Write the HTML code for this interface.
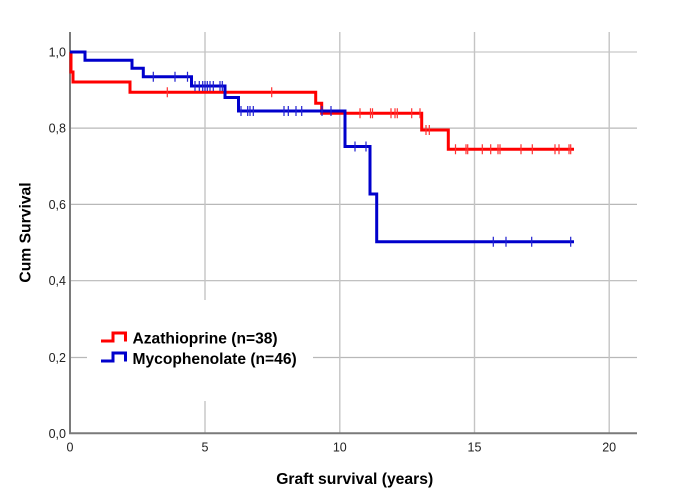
<!DOCTYPE html>
<html><head><meta charset="utf-8"><style>
html,body{margin:0;padding:0;background:#fff;}
svg{display:block;}
text{font-family:"Liberation Sans",Arial,sans-serif;}
</style></head><body>
<svg width="680" height="500" viewBox="0 0 680 500" xmlns="http://www.w3.org/2000/svg">
<rect width="680" height="500" fill="#fff"/>
<!-- horizontal gridlines -->
<g stroke="#b8b8b8" stroke-width="1.2">
<line x1="70" y1="52" x2="637" y2="52" stroke="#d2d2d2" stroke-width="1.6"/>
<line x1="70" y1="128.1" x2="637" y2="128.1"/>
<line x1="70" y1="204.4" x2="637" y2="204.4"/>
<line x1="70" y1="280.7" x2="637" y2="280.7"/>
<line x1="70" y1="357.5" x2="637" y2="357.5"/>
</g>
<!-- vertical gridlines -->
<g stroke="#c4c4c4" stroke-width="1.4">
<line x1="205" y1="32" x2="205" y2="433"/>
<line x1="339.8" y1="32" x2="339.8" y2="433"/>
<line x1="474.5" y1="32" x2="474.5" y2="433"/>
<line x1="609.2" y1="32" x2="609.2" y2="433"/>
</g>
<!-- legend background -->
<rect x="87" y="300" width="226" height="101" fill="#fff"/>
<!-- axes -->
<line x1="70" y1="32" x2="70" y2="434" stroke="#7a7a7a" stroke-width="2"/>
<line x1="69" y1="433.3" x2="637" y2="433.3" stroke="#7a7a7a" stroke-width="2"/>
<!-- y tick labels -->
<g font-size="12.5" fill="#222" text-anchor="end">
<text x="66" y="56.5">1,0</text>
<text x="66" y="132.6">0,8</text>
<text x="66" y="208.9">0,6</text>
<text x="66" y="285.2">0,4</text>
<text x="66" y="362">0,2</text>
<text x="66" y="438">0,0</text>
</g>
<!-- x tick labels -->
<g font-size="12.5" fill="#222" text-anchor="middle">
<text x="70" y="451.5">0</text>
<text x="205" y="451.5">5</text>
<text x="339.8" y="451.5">10</text>
<text x="474.5" y="451.5">15</text>
<text x="609.2" y="451.5">20</text>
</g>
<!-- axis titles -->
<text x="354.7" y="484" font-size="15.7" font-weight="bold" fill="#000" text-anchor="middle">Graft survival (years)</text>
<text transform="translate(30.5,232.5) rotate(-90)" font-size="15.7" font-weight="bold" fill="#000" text-anchor="middle">Cum Survival</text>
<!-- red series -->
<path d="M71,52 V72 H73 V82 H130 V92.3 H315.7 V103.3 H321.7 V113.3 H421.7 V130 H448.3 V149.3 H574" fill="none" stroke="#ff0000" stroke-width="3" stroke-linejoin="miter"/>
<g stroke="#ff3030" stroke-width="1.2">
<path d="M167.3,87.3v10 M271.7,87.3v10"/>
<path d="M360,108.3v10 M370.5,108.3v10 M372.5,108.3v10 M391,108.3v10 M395,108.3v10 M397.3,108.3v10 M411.7,108.3v10 M420,108.3v10"/>
<path d="M426,125v10 M429.3,125v10"/>
<path d="M455.5,144.3v10 M466,144.3v10 M467.7,144.3v10 M482.3,144.3v10 M490.7,144.3v10 M498,144.3v10 M500,144.3v10 M521,144.3v10 M532.3,144.3v10 M555,144.3v10 M559,144.3v10 M569,144.3v10 M570.7,144.3v10"/>
</g>
<!-- blue series -->
<path d="M70,52 H85 V60.2 H132 V68.3 H143.3 V76.7 H191.5 V86 H225 V97.5 H238.5 V111 H345 V146.5 H370 V194 H376.7 V241.7 H574" fill="none" stroke="#0000cc" stroke-width="3" stroke-linejoin="miter"/>
<g stroke="#2020d0" stroke-width="1.2">
<path d="M153.3,71.7v10 M175,71.7v10 M187.5,71.7v10"/>
<path d="M195,81v10 M199.3,81v10 M202.7,81v10 M205,81v10 M207.3,81v10 M210,81v10 M213.3,81v10 M220,81v10 M222.3,81v10"/>
<path d="M241,106v10 M247.7,106v10 M250,106v10 M253.3,106v10 M284,106v10 M288.3,106v10 M296,106v10 M301.7,106v10 M322,106v10 M331,106v10"/>
<path d="M355,141.5v10 M366,141.5v10"/>
<path d="M493.3,236.7v10 M506,236.7v10 M531.7,236.7v10 M570.7,236.7v10"/>
</g>
<!-- legend -->
<path d="M101,341 H113 V333 H125.5 V341.5" fill="none" stroke="#ff0000" stroke-width="3"/>
<path d="M101,361 H113 V353 H125.5 V361.5" fill="none" stroke="#0000cc" stroke-width="3"/>
<text x="132.5" y="343.5" font-size="15.6" font-weight="bold" fill="#000">Azathioprine (n=38)</text>
<text x="132.5" y="363.8" font-size="15.6" font-weight="bold" fill="#000">Mycophenolate (n=46)</text>
</svg>
</body></html>
